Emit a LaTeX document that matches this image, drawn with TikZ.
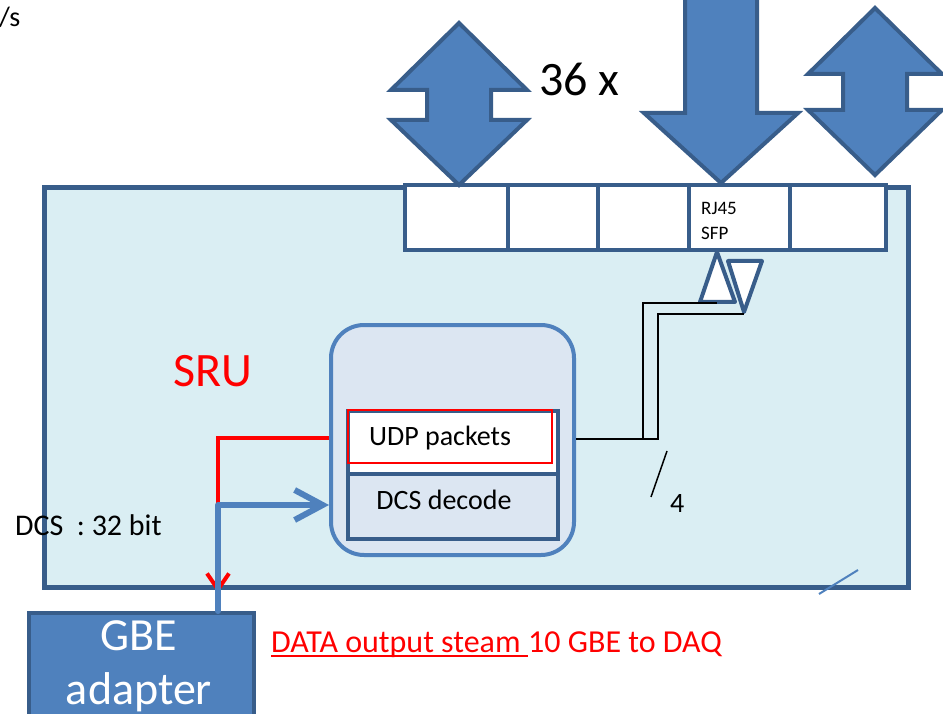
\documentclass[tikz,border=0pt]{standalone}
\usepackage{fontspec}
\setmainfont{Carlito}
\usetikzlibrary{arrows.meta}

\definecolor{fillblue}{HTML}{4F81BD}
\definecolor{edgeblue}{HTML}{385D8A}
\definecolor{panelblue}{HTML}{DAEEF3}
\definecolor{coreblue}{HTML}{DCE6F2}
\definecolor{alert}{HTML}{FF0000}

\tikzset{
  fatarrow/.style={fill=fillblue, draw=edgeblue, line width=4pt, line join=miter},
  portbox/.style={draw=edgeblue, fill=white, line width=4pt, minimum height=65pt,
                  anchor=north west, inner sep=0pt},
  celltri/.style={draw=edgeblue, fill=white, line width=4pt, line join=round},
  cell/.style={draw=edgeblue, line width=4pt, minimum width=210pt, anchor=north west, inner sep=0pt},
  txt/.style={inner sep=0pt, font=\fontsize{28}{32}\selectfont},
  wire/.style={draw=black, line width=1.5pt},
}

\begin{document}
\begin{tikzpicture}[x=1pt, y=-1pt]
\useasboundingbox (0,0) rectangle (943,714);

% SRU board
\node[draw=edgeblue, fill=panelblue, line width=5pt, minimum width=864pt,
      minimum height=400pt, anchor=north west, inner sep=0pt] (sru) at (42,185) {};

% front-panel ports
\node[portbox, minimum width=103pt] (p1) at (403,183) {};
\node[portbox, minimum width=90pt]  (p2) at (506,183) {};
\node[portbox, minimum width=91pt]  (p3) at (596,183) {};
\node[portbox, minimum width=101pt] (p4) at (687,183) {};
\node[portbox, minimum width=96pt]  (p5) at (788,183) {};
\node[anchor=base west, inner sep=0pt, font=\fontsize{19}{22}\selectfont] at (701,215) {RJ45};
\node[anchor=base west, inner sep=0pt, font=\fontsize{19}{22}\selectfont] at (701,240) {SFP};

% big block arrows above the ports
\draw[fatarrow] (459,23) -- (527,90) -- (491,90) -- (491,120) -- (527,120) -- (459,185)
  -- (391,120) -- (427,120) -- (427,90) -- (391,90) -- cycle;
\draw[fatarrow] (685,-6) -- (685,113) -- (644,113) -- (721,183) -- (798,113) -- (757,113)
  -- (757,-6) -- cycle;
\draw[fatarrow] (875,8) -- (942,74) -- (907,74) -- (907,110) -- (942,110) -- (875,175)
  -- (808,110) -- (843,110) -- (843,74) -- (808,74) -- cycle;

\node[anchor=base west, inner sep=0pt, font=\fontsize{48}{54}\selectfont] at (539,96) {36 x};
\node[anchor=base west, inner sep=0pt, font=\fontsize{28}{32}\selectfont] at (-1,27) {/s};

% transceiver triangles
\draw[celltri] (717,252) -- (735,302) -- (700,302) -- cycle;
\draw[celltri] (728,261) -- (762,261) -- (744,312) -- cycle;
\coordinate (txin) at (717,303);
\coordinate (rxin) at (744,314);

% SRU label
\node[anchor=base west, inner sep=0pt, text=alert, font=\fontsize{48}{54}\selectfont] at (173,386) {SRU};

% core block
\node[draw=fillblue, fill=coreblue, line width=4pt, rounded corners=33pt,
      minimum width=243pt, minimum height=230pt, anchor=north west, inner sep=0pt] (core) at (329,323) {};
\node[cell, fill=white, minimum height=63pt] (udp) at (346,409) {};
\node[cell, fill=coreblue, minimum height=65pt] (dcs) at (346,472) {};
\draw[alert, line width=1.5pt] (348,410) rectangle (552,463);
\node[txt] (udptxt) at (440,438) {UDP packets};
\node[txt] (dcstxt) at (444,500) {DCS decode};

% serial links to the transceiver
\coordinate (linkA) at (658,439);
\coordinate (linkB) at (643,439);
\draw[wire] (core.east |- linkA) -- (linkA) |- (rxin);
\draw[wire] (linkB) |- (txin);
\draw[line width=1.5pt] (667,451) -- (651,497);
\node[anchor=base west, txt] at (670,512) {4};

% GBE adapter
\node[draw=edgeblue, fill=fillblue, line width=4pt, minimum width=225pt, minimum height=120pt,
      anchor=north west, inner sep=0pt] (gbe) at (27,611) {};
\node[anchor=base, inner sep=0pt, text=white, font=\fontsize{46}{54}\selectfont] at (139,650) {GBE};
\node[anchor=base, inner sep=0pt, text=white, font=\fontsize{46}{54}\selectfont] at (139,704) {adapter};
\coordinate (gbeport) at (218,611);
\coordinate (datain) at (218,593);

% data path out, DCS path in
\draw[alert, line width=4pt, -{Straight Barb[length=16pt, width=22pt]}]
  (core.west |- 0,438) -| (datain);
\draw[fillblue, line width=6pt, line cap=round, line join=round,
      -{Straight Barb[length=28pt, width=30pt]}]
  (gbeport) |- (core.west |- 0,505);

\node[anchor=base west, inner sep=0pt, font=\fontsize{30}{34}\selectfont] at (15,535) {DCS\ \ : 32 bit};

% output stream label
\node[anchor=base west, inner sep=0pt, text=alert, font=\fontsize{32}{36}\selectfont] (dataA) at (271,652) {DATA output steam\ \kern0pt};
\node[anchor=base west, inner sep=0pt, text=alert, font=\fontsize{32}{36}\selectfont] (dataB) at (dataA.base east) {10 GBE to DAQ};
\draw[alert, line width=1.5pt] ([yshift=-4pt]dataA.base west) -- ([yshift=-4pt]dataA.base east);

% small stroke at the board corner
\draw[fillblue, line width=2pt] (819,594) -- (858,570);
\end{tikzpicture}
\end{document}
